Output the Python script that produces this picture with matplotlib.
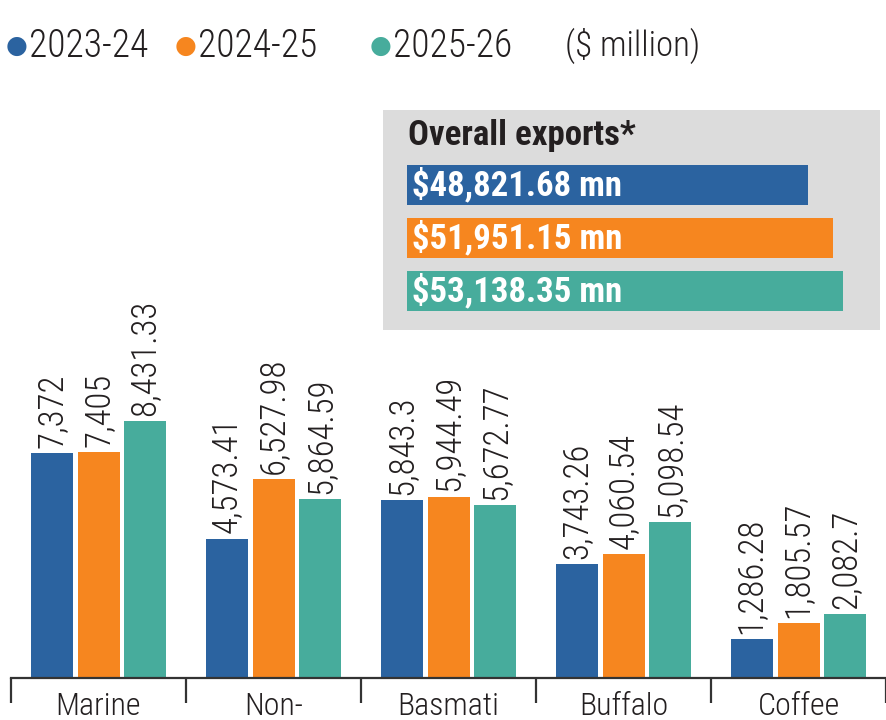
import matplotlib
matplotlib.use("Agg")
import matplotlib.pyplot as plt
import numpy as np

categories = ["Marine", "Non-", "Basmati", "Buffalo", "Coffee"]
series_names = ["2023-24", "2024-25", "2025-26"]
v2324 = [7372, 4573.41, 5843.3, 3743.26, 1286.28]
v2425 = [7405, 6527.98, 5944.49, 4060.54, 1805.57]
v2526 = [8431.33, 5864.59, 5672.77, 5098.54, 2082.7]
label2324 = ["7,372", "4,573.41", "5,843.3", "3,743.26", "1,286.28"]
label2425 = ["7,405", "6,527.98", "5,944.49", "4,060.54", "1,805.57"]
label2526 = ["8,431.33", "5,864.59", "5,672.77", "5,098.54", "2,082.7"]
overall = [48821.68, 51951.15, 53138.35]
overall_labels = ["$48,821.68 mn", "$51,951.15 mn", "$53,138.35 mn"]
unit_label = "($ million)"
inset_title = "Overall exports*"

colors = ["#2b63a0", "#f6861f", "#47ac9c"]
txt = "#231f20"
FAM = ["Roboto Condensed", "Liberation Sans Narrow", "Roboto", "DejaVu Sans"]

W, H = 886, 720
fig = plt.figure(figsize=(W / 100, H / 100), dpi=100)

def px(x0, y0, x1, y1):
    return [x0 / W, 1 - y1 / H, (x1 - x0) / W, (y1 - y0) / H]

# main axes
ax = fig.add_axes(px(11, 100, 886, 678))
step = 0.267
bw = 0.24
x = np.arange(len(categories))
vals = [v2324, v2425, v2526]
labs = [label2324, label2425, label2526]
for i, (vs, ls) in enumerate(zip(vals, labs)):
    xs = x + (i - 1) * step
    ax.bar(xs, vs, width=bw, color=colors[i], zorder=2)
    for xi, v, l in zip(xs, vs, ls):
        ax.text(xi, v + 170, l, rotation=90, ha="center", va="bottom",
                fontsize=25, color=txt, family=FAM, fontweight="light")
ax.set_xlim(-0.5, 4.47)
ax.set_ylim(0, 18950)
for s in ["top", "right", "left"]:
    ax.spines[s].set_visible(False)
ax.spines["bottom"].set_linewidth(1.6)
ax.spines["bottom"].set_color("#333333")
ax.set_yticks([])
ax.set_xticks(np.arange(-0.5, 5, 1.0))
ax.set_xticklabels([])
ax.tick_params(axis="x", which="major", length=18, width=1.6, color="#333333")
ax.set_xticks(x, minor=True)
ax.set_xticklabels(categories, minor=True, fontsize=23, color=txt, family=FAM,
                   fontweight="light")
ax.tick_params(axis="x", which="minor", length=0, pad=10)

# legend
lx = [17, 186, 381]
for i, (name, xx) in enumerate(zip(series_names, lx)):
    fig.text((xx) / W, 1 - 46 / H, "\u25CF", color=colors[i], fontsize=18,
             ha="center", va="center", family="DejaVu Sans")
    fig.text((xx + 12) / W, 1 - 46 / H, name, color=txt, fontsize=27,
             ha="left", va="center", family=FAM, fontweight="light")
fig.text(565 / W, 1 - 46 / H, unit_label, color=txt, fontsize=25,
         ha="left", va="center", family=FAM, fontweight="light")

# inset
ia = fig.add_axes(px(383, 110, 880, 330))
ia.set_facecolor("#dcdcdc")
s = 436 / overall[2]
ia.set_xlim(-(407 - 383) / s, (880 - 407) / s)
ia.set_ylim(2.736, -1.415)
ia.barh(np.arange(3), overall, height=0.755, color=colors, left=0)
for i, l in enumerate(overall_labels):
    ia.text(5 / s, i, l, color="white", fontsize=25, fontweight="bold",
            ha="left", va="center", family=FAM)
ia.text(1 / s, -0.93, inset_title, color=txt, fontsize=25, fontweight="bold",
        ha="left", va="center", family=FAM)
ia.set_xticks([]); ia.set_yticks([])
for sp in ia.spines.values():
    sp.set_visible(False)

fig.savefig("out.png", dpi=100)
